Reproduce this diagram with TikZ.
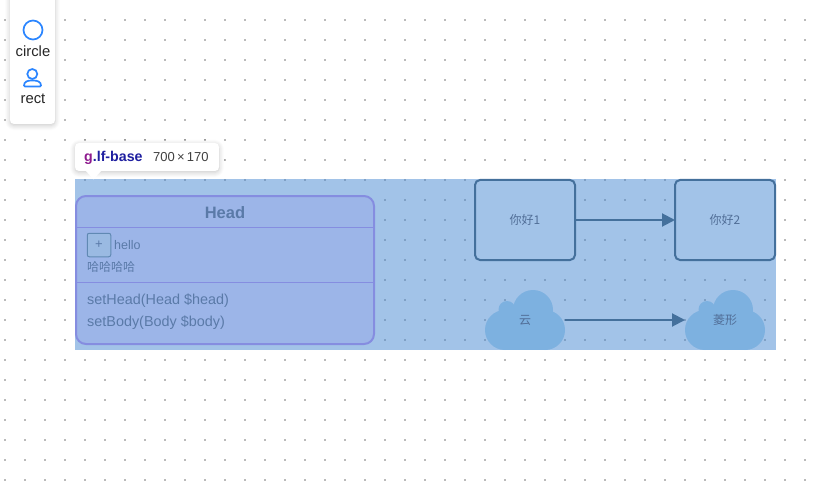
\documentclass[tikz,border=0pt]{standalone}
\usepackage{fontspec}
\setmainfont{Liberation Sans}
\newfontfamily\cjk{Noto Sans CJK SC}
\usetikzlibrary{arrows.meta,shadows.blur}
\definecolor{areablue}{HTML}{4587D1}
\definecolor{headfill}{HTML}{9CB5E8}
\definecolor{headline}{HTML}{858DE0}
\definecolor{headtext}{HTML}{5A7AA8}
\definecolor{nodeline}{HTML}{44709C}
\definecolor{nodefill}{HTML}{A2C3E8}
\definecolor{cloudfill}{HTML}{7DB1E0}
\definecolor{iconblue}{HTML}{2A85FF}
\definecolor{tipname}{HTML}{1F1FA0}
\definecolor{tiptag}{HTML}{8E1A8E}
\tikzset{
    softshadow/.style={blur shadow={shadow xshift=0pt, shadow yshift=-1.5pt, shadow blur radius=5pt,
        shadow blur steps=8, shadow opacity=22}},
    panelbox/.style={fill=white, rounded corners=4, softshadow},
    tooltext/.style={font=\fontsize{14.8}{17}\selectfont, text=black!85, inner sep=0},
    roundbox/.style={draw=nodeline, line width=2, fill=nodefill, rounded corners=5,
        minimum width=100, minimum height=80, inner sep=0, outer sep=0,
        font=\cjk\fontsize{12}{14}\selectfont, text=headtext!90!black},
    cloudlabel/.style={minimum width=80, minimum height=60, inner sep=0, outer sep=0,
        font=\cjk\fontsize{12}{14}\selectfont, text=headtext!90!black},
    flow/.style={draw=nodeline, line width=2, -{Triangle[length=13, width=13]}},
    headlabel/.style={anchor=west, inner sep=0, text=headtext, font=\fontsize{14.4}{17}\selectfont},
    cloudpic/.pic={
        \fill[cloudfill] (-20,10) circle (20);
        \fill[cloudfill] (20,10) circle (20);
        \fill[cloudfill] (8,-10) circle (20);
        \fill[cloudfill] (-18,-10.5) circle (8.5);
        \fill[cloudfill] (-20,-5) rectangle (20,30);
    }
}
\begin{document}
\begin{tikzpicture}[x=1pt, y=-1pt]
    \clip (0,0) rectangle (821,497);
    \foreach \i in {0,...,40} \foreach \j in {1,...,24}
        \fill[black!27] (4.2+20*\i,20*\j-.8) rectangle +(1.6,1.6);
    \fill[areablue, opacity=0.5] (75,179) rectangle (776,350);
    % left tool panel
    \fill[panelbox] (10,-8) rectangle (55,124);
    \draw[iconblue, line width=1.7] (33,30) circle (9.5);
    \draw[iconblue, line width=1.7] (32.3,74) circle (5);
    \draw[iconblue, line width=1.7, rounded corners=1] (24,86.5) .. controls (24,81.5) and (28,80.5) .. (32.3,80.5)
        .. controls (37,80.5) and (41,81.5) .. (41,86.5) -- cycle;
    \node[tooltext] (circlelabel) at (33,51.5) {circle};
    \node[tooltext] (rectlabel) at (33,98.5) {rect};
    % size tip
    \node[panelbox, minimum width=144, minimum height=28, inner sep=0, outer sep=0] (tipbox) at (147,157) {};
    \fill[white] (85.5,170.5) -- (93.5,179.5) -- (101.5,170.5) -- cycle;
    \node[anchor=west, inner sep=0, font=\bfseries\fontsize{14.2}{16}\selectfont] (tipname) at (84,157.5)
        {\textcolor{tiptag}{g}\textcolor{tipname}{.lf-base}};
    \node[anchor=west, inner sep=0, text=black!75, font=\fontsize{13}{15}\selectfont] (tipsize) at (153,157.5)
        {700\,×\,170};
    % class box
    \node[draw=headline, line width=2, fill=headfill, rounded corners=10, minimum width=298, minimum height=148,
        inner sep=0, outer sep=0] (headbox) at (225,270) {};
    \draw[headline, line width=1] (headbox.west |- 0,227.5) -- (headbox.east |- 0,227.5);
    \draw[headline, line width=1] (headbox.west |- 0,282.5) -- (headbox.east |- 0,282.5);
    \node[inner sep=0, text=headtext, font=\bfseries\fontsize{16.5}{19}\selectfont] (headtitle) at (225,212.5) {Head};
    \node[draw=nodeline!70!nodefill, line width=1, fill=nodefill!85!headfill!90!headtext, rounded corners=2, minimum size=23.5, inner sep=0,
        text=headtext, font=\fontsize{13}{15}\selectfont] (plusbtn) at (99,245) {+};
    \node[headlabel, font=\fontsize{12.5}{15}\selectfont] (hellolabel) at (114,245) {hello};
    \node[headlabel, font=\cjk\fontsize{12}{14}\selectfont] (halabel) at (87,267) {哈哈哈哈};
    \node[headlabel] (sethead) at (87,301) {setHead(Head \$head)};
    \node[headlabel] (setbody) at (87,323) {setBody(Body \$body)};
    % nodes on the right
    \node[roundbox] (helloone) at (525,220) {你好1};
    \node[roundbox] (hellotwo) at (725,220) {你好2};
    \foreach \name/\x/\txt in {cloudone/525/云,cloudtwo/725/菱形} {
        \pic at (\x,320) {cloudpic};
        \node[cloudlabel] (\name) at (\x,320) {\txt};
    }
    \draw[flow] (helloone) -- (hellotwo);
    \draw[flow] (cloudone) -- (cloudtwo);
\end{tikzpicture}
\end{document}
